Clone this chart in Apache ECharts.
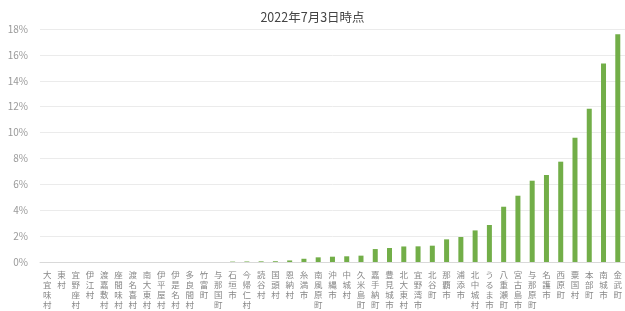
<!DOCTYPE html>
<html>
<head>
<meta charset="utf-8">
<script src="https://cdn.jsdelivr.net/npm/echarts@6/dist/echarts.min.js"></script>
<style>html,body{margin:0;padding:0;background:#fff}#c{width:625px;height:311px}</style>
</head>
<body>
<div id="c"></div>
<script>
const titleText = '2022年7月3日時点';
const categories = ['大宜味村','東村','宜野座村','伊江村','渡嘉敷村','座間味村','渡名喜村','南大東村','伊平屋村','伊是名村','多良間村','竹富町','与那国町','石垣市','今帰仁村','読谷村','国頭村','恩納村','糸満市','南風原町','沖縄市','中城村','久米島町','嘉手納町','豊見城市','北大東村','宜野湾市','北谷町','那覇市','浦添市','北中城村','うるま市','八重瀬町','宮古島市','与那原町','名護市','西原町','粟国村','本部町','南城市','金武町'];
const values = [0,0,0,0,0,0,0,0,0,0,0,0,0,0.03,0.04,0.05,0.06,0.12,0.25,0.36,0.41,0.44,0.49,1.0,1.08,1.2,1.21,1.26,1.75,1.93,2.44,2.86,4.27,5.12,6.28,6.72,7.75,9.6,11.84,15.34,17.6];
const yTicks = {min: 0, max: 18, interval: 2};

const chart = echarts.init(document.getElementById('c'));
chart.setOption({
  animation: false,
  textStyle: {fontFamily: 'Noto Sans CJK JP'},
  title: {
    text: titleText, left: 'center', top: 6,
    textStyle: {fontSize: 12.5, fontWeight: 'normal', color: '#444', fontFamily: 'Noto Sans CJK JP'}
  },
  grid: {left: 40, top: 29, width: 588, height: 233, containLabel: false},
  xAxis: {
    type: 'category', data: categories,
    axisTick: {show: false},
    axisLine: {lineStyle: {color: '#d9d9d9'}},
    axisLabel: {
      interval: 0, margin: 8, fontSize: 8.5, lineHeight: 10, color: '#888',
      verticalAlign: 'top',
      formatter: v => v.split('').join('\n')
    }
  },
  yAxis: {
    type: 'value', min: yTicks.min, max: yTicks.max, interval: yTicks.interval,
    axisLine: {show: false}, axisTick: {show: false},
    splitLine: {lineStyle: {color: '#ebebeb'}},
    axisLabel: {formatter: '{value}%', fontSize: 10, color: '#999', margin: 12}
  },
  series: [{
    type: 'bar', data: values, barWidth: 5,
    itemStyle: {color: '#72ae48'}
  }]
});
</script>
</body>
</html>
